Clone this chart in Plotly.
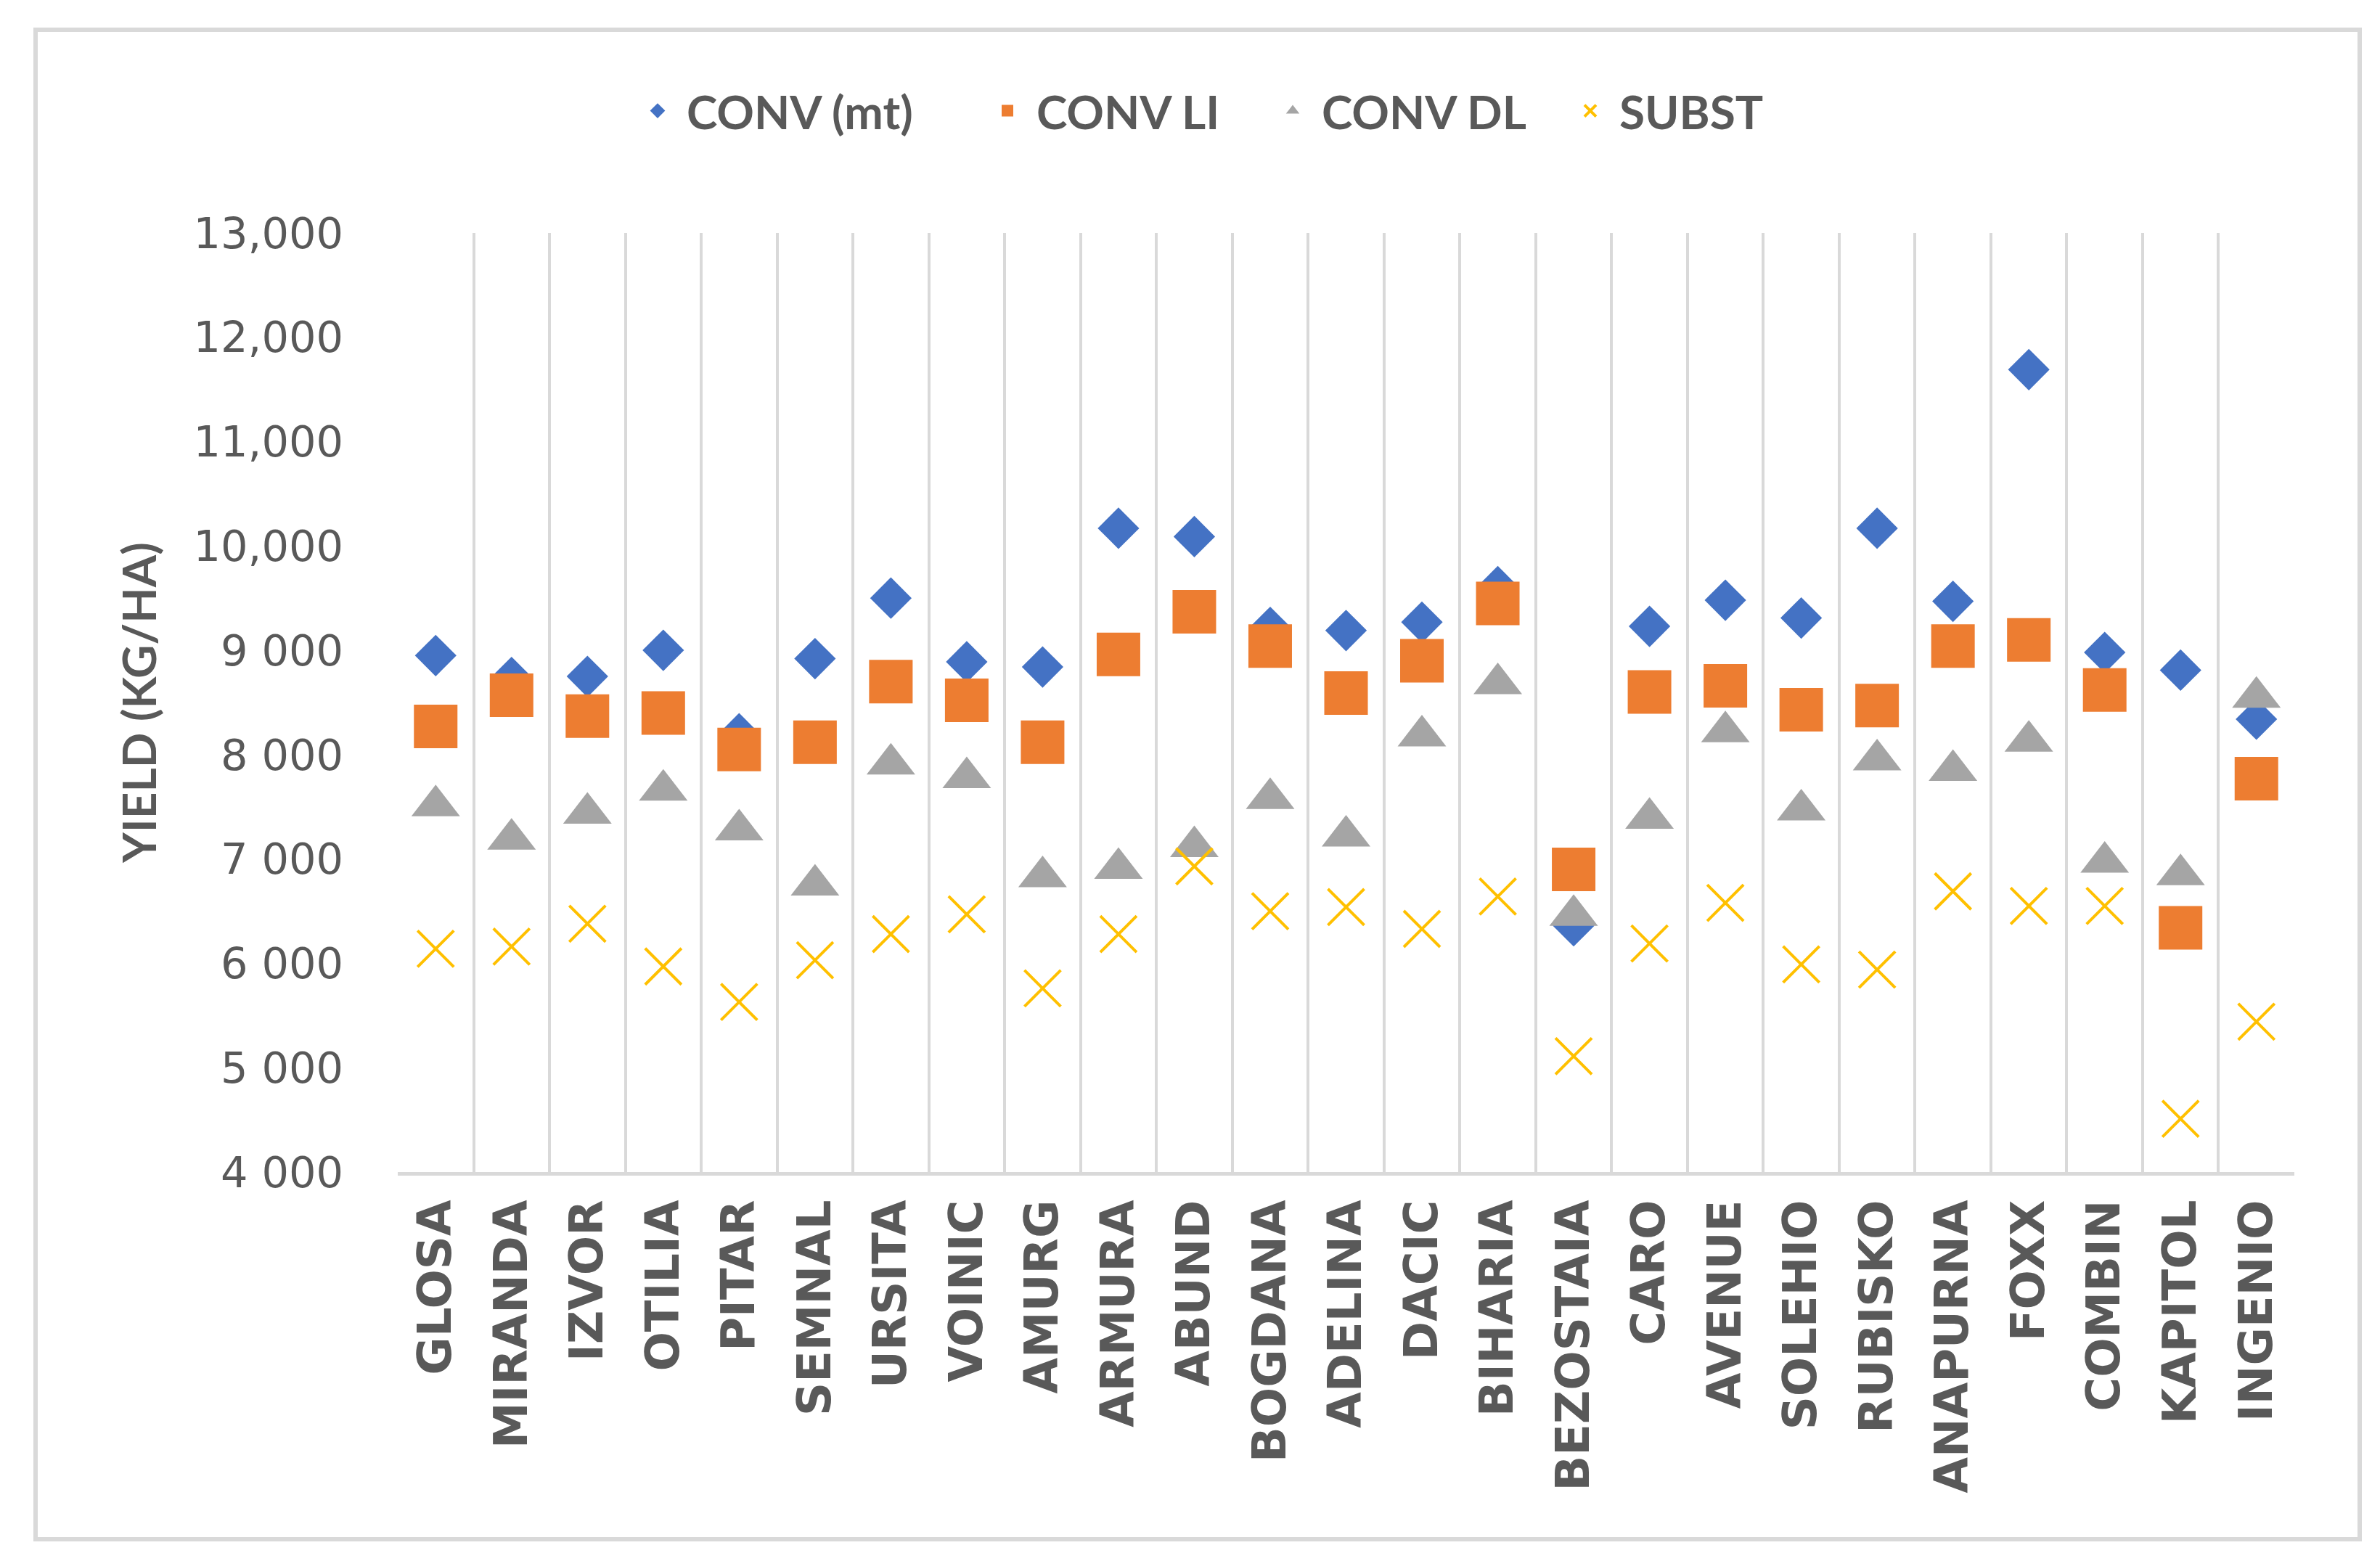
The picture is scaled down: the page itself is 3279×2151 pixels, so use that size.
import plotly.graph_objects as go

# ---------------- data ----------------
categories = ["GLOSA", "MIRANDA", "IZVOR", "OTILIA", "PITAR", "SEMNAL", "URSITA",
              "VOINIC", "AMURG", "ARMURA", "ABUND", "BOGDANA", "ADELINA", "DACIC",
              "BIHARIA", "BEZOSTAIA", "CARO", "AVENUE", "SOLEHIO", "RUBISKO",
              "ANAPURNA", "FOXX", "COMBIN", "KAPITOL", "INGENIO"]

conv_mt = [8950, 8740, 8750, 9000, 8200, 8920, 9500, 8890, 8840, 10170, 10090, 9220,
           9190, 9270, 9610, 6360, 9230, 9480, 9310, 10170, 9470, 11690, 8980, 8810, 8340]
conv_li = [8270, 8570, 8370, 8400, 8050, 8120, 8700, 8520, 8120, 8960, 9370, 9040,
           8590, 8900, 9450, 6900, 8600, 8660, 8430, 8470, 9040, 9100, 8620, 6340, 7770]
conv_dl = [7510, 7190, 7440, 7660, 7280, 6750, 7910, 7780, 6830, 6910, 7120, 7580,
           7220, 8180, 8680, 6460, 7390, 8220, 7470, 7950, 7850, 8130, 6970, 6850, 8550]
subst = [6140, 6160, 6380, 5970, 5630, 6030, 6280, 6470, 5760, 6280, 6930, 6500,
         6540, 6330, 6640, 5110, 6190, 6580, 5990, 5940, 6690, 6550, 6550, 4510, 5440]

series_names = ["CONV (mt)", "CONV LI", "CONV DL", "SUBST"]

y_tickvals = [4000, 5000, 6000, 7000, 8000, 9000, 10000, 11000, 12000, 13000]
y_ticktext = ["4 000", "5 000", "6 000", "7 000", "8 000", "9 000",
              "10,000", "11,000", "12,000", "13,000"]

# ---------------- layout geometry (px) ----------------
W, H = 3279, 2151
PL, PR, PT, PB = 540, 3153, 313, 1607   # plot area edges
LEGEND_Y = 145
LEGEND_MARKER_X = [898, 1380, 1773, 2183]   # legend symbol centres (px)


def px_x(px):
    return (px - PL) / (PR - PL)


def px_y(py):
    return (PB - py) / (PB - PT)


GREY_TXT = "#595959"
GRID = "#D9D9D9"
legend_font = dict(family="Lato", size=64, color=GREY_TXT, weight="bold")

symbols = ["diamond", "square", "triangle-up", "x-thin"]
colors = ["#4472C4", "#ED7D31", "#A5A5A5", "#FFC000"]
sizes = [44, 60, 58, 50]
values = [conv_mt, conv_li, conv_dl, subst]
legend_ids = ["legend", "legend2", "legend3", "legend4"]

fig = go.Figure()
for name, sym, col, sz, vals, lid in zip(series_names, symbols, colors, sizes, values, legend_ids):
    line = dict(width=4, color=col) if sym == "x-thin" else dict(width=0)
    fig.add_trace(go.Scatter(
        x=categories, y=vals, mode="markers", name=name, legend=lid,
        marker=dict(symbol=sym, size=sz, color=col, line=line)))

legends = {}
for lid, mx in zip(legend_ids, LEGEND_MARKER_X):
    legends[lid] = dict(orientation="h", x=px_x(mx - 40), y=px_y(LEGEND_Y),
                        xanchor="left", yanchor="middle", font=legend_font,
                        itemwidth=70, bgcolor="rgba(0,0,0,0)", borderwidth=0)

fig.update_layout(
    width=W, height=H,
    margin=dict(l=PL, r=W - PR, t=PT, b=H - PB, autoexpand=False),
    paper_bgcolor="white", plot_bgcolor="white",
    showlegend=True,
    **legends,
    xaxis=dict(type="category", range=[-0.5, len(categories) - 0.5],
               tickson="boundaries", showgrid=True, gridcolor=GRID, gridwidth=4,
               showline=True, linecolor=GRID, linewidth=5, ticks="",
               tickangle=-90, ticklabelstandoff=8,
               tickfont=dict(family="DejaVu Sans", size=64, color=GREY_TXT, weight="bold"),
               zeroline=False),
    yaxis=dict(range=[4000, 13000], tickmode="array", tickvals=y_tickvals,
               ticktext=y_ticktext, showgrid=False, zeroline=False, showline=False,
               ticks="", ticklabelstandoff=74,
               tickfont=dict(family="DejaVu Sans", size=59, color=GREY_TXT),
               title=dict(text="YIELD (KG/HA)", standoff=30,
                          font=dict(family="Lato", size=64, color=GREY_TXT, weight="bold"))),
    shapes=[dict(type="rect", xref="paper", yref="paper",
                 x0=px_x(41), x1=px_x(3243), y0=px_y(2113), y1=px_y(33),
                 line=dict(color=GRID, width=6), fillcolor="rgba(0,0,0,0)", layer="below")],
)

fig.write_html("out.html")
